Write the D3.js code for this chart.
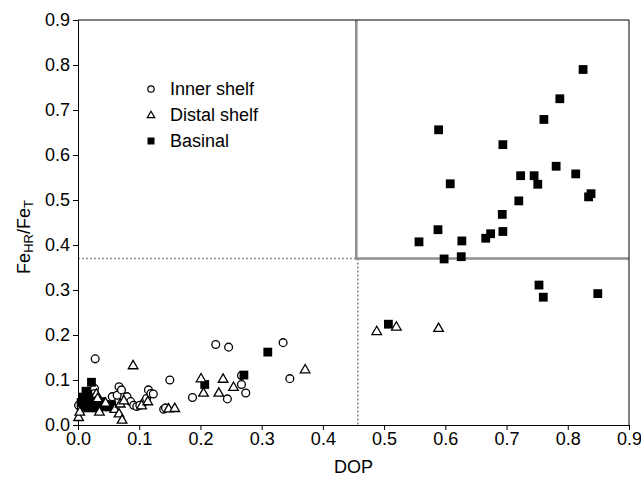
<!DOCTYPE html>
<html><head><meta charset="utf-8">
<script src="https://cdn.jsdelivr.net/npm/d3@7"></script>
<style>body{margin:0;background:#fff}svg{display:block}text{font-family:"Liberation Sans",Arial,sans-serif}</style>
</head><body>
<svg id="c" width="641" height="480"></svg>
<script>
const xTicks = [0,0.1,0.2,0.3,0.4,0.5,0.6,0.7,0.8,0.9];
const yTicks = [0,0.1,0.2,0.3,0.4,0.5,0.6,0.7,0.8,0.9];
const dopThreshold = 0.457;
const feThreshold = 0.37;
const seriesNames = ["Inner shelf","Distal shelf","Basinal"];

const innerShelf = [
 [0.001,0.044],[0.005,0.035],[0.012,0.05],[0.027,0.081],[0.028,0.147],[0.027,0.07],[0.04,0.05],
 [0.056,0.063],[0.064,0.066],[0.067,0.085],[0.071,0.078],[0.080,0.063],[0.086,0.052],[0.091,0.044],
 [0.096,0.041],[0.101,0.044],[0.109,0.052],[0.112,0.059],[0.115,0.078],[0.119,0.070],[0.123,0.069],
 [0.140,0.035],[0.143,0.038],[0.150,0.100],[0.187,0.061],[0.225,0.179],[0.246,0.173],[0.267,0.110],
 [0.267,0.090],[0.274,0.071],[0.244,0.058],[0.335,0.183],[0.346,0.103]
];
const distalShelf = [
 [0.001,0.018],[0.003,0.03],[0.03,0.07],[0.032,0.06],[0.035,0.03],[0.045,0.05],[0.06,0.036],
 [0.069,0.048],[0.067,0.026],[0.072,0.012],[0.075,0.055],[0.090,0.133],[0.104,0.044],[0.114,0.053],
 [0.148,0.037],[0.158,0.038],[0.201,0.104],[0.205,0.072],[0.230,0.072],[0.237,0.103],[0.254,0.085],
 [0.371,0.124],[0.488,0.209],[0.520,0.219],[0.589,0.216]
];
const basinal = [
 [0.005,0.05],[0.008,0.062],[0.010,0.04],[0.012,0.055],[0.015,0.045],[0.016,0.068],[0.018,0.038],
 [0.020,0.05],[0.022,0.095],[0.024,0.06],[0.026,0.042],[0.028,0.055],[0.030,0.038],[0.033,0.048],
 [0.035,0.04],[0.038,0.052],[0.040,0.042],[0.045,0.045],[0.050,0.04],[0.055,0.045],[0.013,0.075],
 [0.207,0.090],[0.271,0.111],[0.310,0.162],[0.507,0.224],
 [0.825,0.790],[0.787,0.725],[0.761,0.679],[0.589,0.656],[0.694,0.623],[0.608,0.536],[0.781,0.575],
 [0.813,0.558],[0.723,0.554],[0.745,0.554],[0.751,0.535],[0.838,0.514],[0.834,0.507],[0.720,0.498],
 [0.693,0.468],[0.588,0.434],[0.557,0.407],[0.627,0.409],[0.674,0.425],[0.666,0.415],[0.694,0.430],
 [0.598,0.369],[0.626,0.374],[0.753,0.311],[0.760,0.284],[0.849,0.292]
];

const svg = d3.select("#c");
const x = d3.scaleLinear().domain([0,0.9]).range([78,629]);
const y = d3.scaleLinear().domain([0,0.9]).range([425,20]);
const fmt = d3.format(".1f");

// threshold lines
const grey = "#8e8e8e";
svg.append("line").attr("x1",x(0)).attr("x2",x(dopThreshold)).attr("y1",y(feThreshold)).attr("y2",y(feThreshold))
  .attr("stroke",grey).attr("stroke-width",1.6).attr("stroke-dasharray","2,2");
svg.append("line").attr("x1",x(dopThreshold)).attr("x2",x(dopThreshold)).attr("y1",y(feThreshold)).attr("y2",y(0))
  .attr("stroke",grey).attr("stroke-width",1.6).attr("stroke-dasharray","2,2");
svg.append("line").attr("x1",x(dopThreshold)-1.5).attr("x2",x(dopThreshold)-1.5).attr("y1",y(0.9)).attr("y2",y(feThreshold)+1)
  .attr("stroke",grey).attr("stroke-width",2.6);
svg.append("line").attr("x1",x(dopThreshold)-3).attr("x2",x(0.9)).attr("y1",y(feThreshold)).attr("y2",y(feThreshold))
  .attr("stroke",grey).attr("stroke-width",2.6);

// frame
svg.append("line").attr("x1",x(0)).attr("x2",x(0.9)).attr("y1",y(0.9)).attr("y2",y(0.9)).attr("stroke","#000");
svg.append("line").attr("x1",x(0.9)).attr("x2",x(0.9)).attr("y1",y(0.9)).attr("y2",y(0)).attr("stroke","#000");

const gx = svg.append("g").attr("transform",`translate(0,${y(0)})`)
  .call(d3.axisBottom(x).tickValues(xTicks).tickFormat(fmt).tickSize(5).tickSizeOuter(0).tickPadding(2));
const gy = svg.append("g").attr("transform",`translate(${x(0)},0)`)
  .call(d3.axisLeft(y).tickValues(yTicks).tickFormat(fmt).tickSize(5).tickSizeOuter(0).tickPadding(3));
[gx,gy].forEach(g=>{
  g.selectAll("text").attr("font-size",18).attr("fill","#000").style("font-family","Liberation Sans, Arial, sans-serif");
  g.selectAll("line,path").attr("stroke","#000");
});

// points
const tri = d3.symbol().type(d3.symbolTriangle).size(40);
svg.append("g").selectAll("circle").data(innerShelf).join("circle")
  .attr("cx",d=>x(d[0])).attr("cy",d=>y(d[1])).attr("r",3.9)
  .attr("fill","#fff").attr("stroke","#000").attr("stroke-width",1.3);
svg.append("g").selectAll("rect").data(basinal).join("rect")
  .attr("x",d=>x(d[0])-4.4).attr("y",d=>y(d[1])-4.4).attr("width",8.8).attr("height",8.8).attr("fill","#000");
svg.append("g").selectAll("path").data(distalShelf).join("path")
  .attr("d",tri).attr("transform",d=>`translate(${x(d[0])},${y(d[1])+0.8})`)
  .attr("fill","#fff").attr("stroke","#000").attr("stroke-width",1.3);

// legend
const lg = svg.append("g");
const ly = [89,115,141];
lg.append("circle").attr("cx",151).attr("cy",ly[0]).attr("r",3.2).attr("fill","#fff").attr("stroke","#000").attr("stroke-width",1.2);
lg.append("path").attr("d",d3.symbol().type(d3.symbolTriangle).size(24)).attr("transform",`translate(151,${ly[1]+0.5})`)
  .attr("fill","#fff").attr("stroke","#000").attr("stroke-width",1.2);
lg.append("rect").attr("x",147.5).attr("y",ly[2]-3.5).attr("width",7).attr("height",7).attr("fill","#000");
seriesNames.forEach((n,i)=>{
  lg.append("text").attr("x",170).attr("y",ly[i]).attr("dy","0.35em").attr("font-size",18).text(n);
});

// axis titles
svg.append("text").attr("x",(x(0)+x(0.9))/2).attr("y",473).attr("text-anchor","middle").attr("font-size",18).text("DOP");
const yt = svg.append("text").attr("transform","translate(30,237) rotate(-90)").attr("text-anchor","middle").attr("font-size",18);
yt.append("tspan").text("Fe");
yt.append("tspan").attr("font-size",13).attr("dy",3).text("HR");
yt.append("tspan").attr("dy",-3).text("/Fe");
yt.append("tspan").attr("font-size",13).attr("dy",3).text("T");
</script>
</body></html>
